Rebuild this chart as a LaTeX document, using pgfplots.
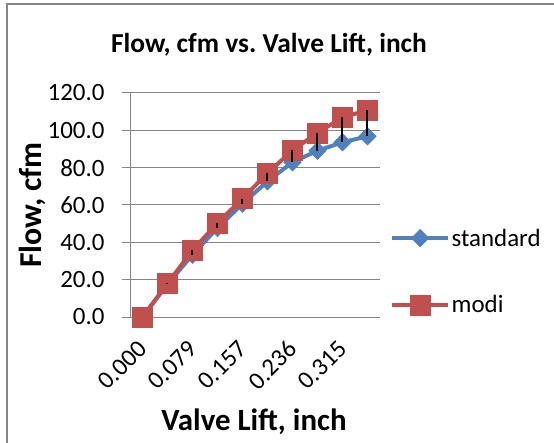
\documentclass[border=0pt]{standalone}
\usepackage{pgfplots}
\usepackage{pgfplotstable}
\pgfplotsset{compat=1.18}
\usepackage{fontspec}
\setmainfont{Carlito}
\frenchspacing
\definecolor{xblue}{HTML}{4F81BD}
\definecolor{xred}{HTML}{C0504D}
\definecolor{xgrid}{HTML}{868686}
\pgfplotstableread{
x s m
0 0 0
1 17.5 18.0
2 33.4 35.7
3 47.7 50.4
4 60.7 63.4
5 72.7 77.1
6 82.9 89.3
7 89.1 98.6
8 93.6 107.0
9 96.8 110.7
}\flowdata
\begin{document}
\begin{tikzpicture}
\useasboundingbox (0,0) rectangle (554bp,443bp);
\draw[xgrid, line width=1.5bp] (7bp,0) -- (7bp,439bp) -- (554bp,439bp);
\begin{axis}[
  clip mode=individual,
  at={(130bp,126bp)}, anchor=south west, scale only axis,
  width=250bp, height=224bp,
  xmin=-0.5, xmax=9.5, ymin=0, ymax=120,
  ytick={0,20,...,120},
  xtick={0,2,4,6,8}, xticklabels={0.000,0.079,0.157,0.236,0.315},
  ymajorgrids, grid style={xgrid, line width=1bp},
  axis x line*=bottom, axis y line*=left,
  axis line style={xgrid, line width=1bp},
  tick align=outside, major tick length=8bp,
  xtick style={draw=none}, ytick style={xgrid, line width=1bp},
  tick label style={font=\fontsize{25}{29}\selectfont},
  yticklabel style={xshift=-14bp, /pgf/number format/.cd, fixed, fixed zerofill, precision=1, assume math mode=true},
  xticklabel style={xshift=0bp, yshift=-20bp, rotate=45, anchor=east, inner sep=0pt},
  ylabel={Flow, cfm},
  ylabel style={at={(axis description cs:-0.39,0.5)}, anchor=center, font=\fontsize{32}{36}\selectfont\bfseries},
  xlabel={Valve Lift, inch},
  xlabel style={at={(axis description cs:0.496,-0.469)}, anchor=center, font=\fontsize{31}{35}\selectfont\bfseries},
  title={Flow, cfm vs.\ Valve Lift, inch},
  title style={at={(axis description cs:0.556,1.19)}, anchor=center, font=\fontsize{27.5}{31}\selectfont\bfseries},
  legend style={at={(axis description cs:1.04,0.203)}, anchor=west, draw=none, fill=none,
    font=\fontsize{25}{29}\selectfont, row sep=45bp, inner sep=0pt, nodes={inner sep=1.5bp}},
  legend cell align=left,
  legend image code/.code={\draw[mark repeat=2, mark phase=2] plot coordinates {(0bp,0bp) (28bp,0bp) (56bp,0bp)};},
]
\addplot[xblue, line width=4bp, mark=square*, mark size=6.2bp, mark options={solid, rotate=45, fill=xblue, draw=xblue, line width=0.5bp}] table[x=x, y=s] {\flowdata};
\addlegendentry{standard}
\addplot[xred, line width=4bp, mark=square*, mark size=10bp, mark options={solid, fill=xred, draw=xred, line width=0.5bp}] table[x=x, y=m] {\flowdata};
\addlegendentry{modi}
\addplot[forget plot, black, line width=2bp, mark=none] coordinates {(1,17.5) (1,18.0)};
\addplot[forget plot, black, line width=2bp, mark=none] coordinates {(2,33.4) (2,35.7)};
\addplot[forget plot, black, line width=2bp, mark=none] coordinates {(3,47.7) (3,50.4)};
\addplot[forget plot, black, line width=2bp, mark=none] coordinates {(4,60.7) (4,63.4)};
\addplot[forget plot, black, line width=2bp, mark=none] coordinates {(5,72.7) (5,77.1)};
\addplot[forget plot, black, line width=2bp, mark=none] coordinates {(6,82.9) (6,89.3)};
\addplot[forget plot, black, line width=2bp, mark=none] coordinates {(7,89.1) (7,98.6)};
\addplot[forget plot, black, line width=2bp, mark=none] coordinates {(8,93.6) (8,107.0)};
\addplot[forget plot, black, line width=2bp, mark=none] coordinates {(9,96.8) (9,110.7)};
\end{axis}
\end{tikzpicture}
\end{document}
